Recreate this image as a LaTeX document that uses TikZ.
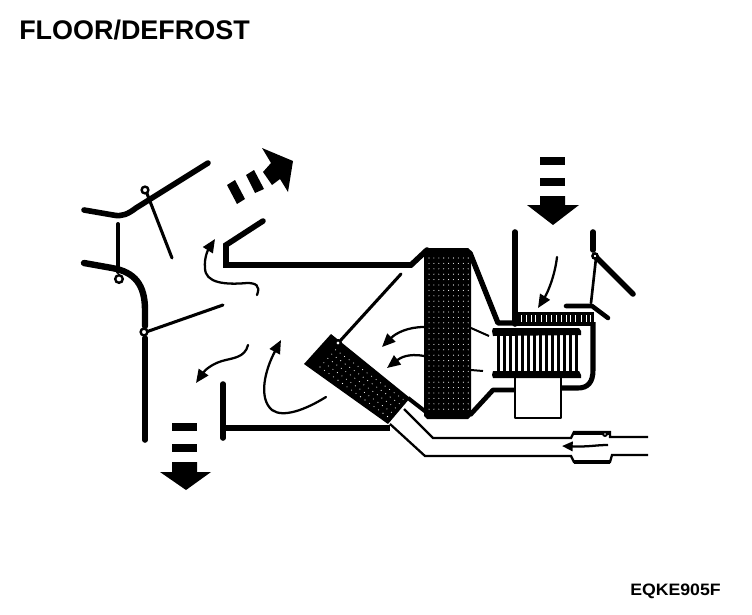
\documentclass[tikz,border=0pt]{standalone}
\usepackage{fontspec}
\setmainfont{Liberation Sans}
\usetikzlibrary{arrows.meta}
\tikzset{
 x=0.75pt,y=-0.75pt,
 wall/.style={line width=4.2pt,line cap=round,line join=round},
 wallthin/.style={line width=3pt,line cap=round,line join=round},
 flap/.style={line width=2.3pt,line cap=round},
 thin pipe/.style={line width=1.7pt,line join=miter},
 hinge/.style={draw,fill=white,line width=1.8pt},
 flow/.style={line width=1.7pt,line cap=round,-{Triangle[length=10pt,width=8.5pt]}},
 dot/.style={fill=white,draw=none},
}
\begin{document}
\begin{tikzpicture}
\useasboundingbox (0,0) rectangle (752,614);
\fill[white] (0,0) rectangle (752,614);
\node[anchor=west,inner sep=0pt,font=\bfseries\fontsize{20.2pt}{22pt}\selectfont] (title) at (19,30) {FLOOR/DEFROST};
\node[anchor=west,inner sep=0pt,font=\bfseries\fontsize{12.4pt}{14pt}\selectfont] (code) at (630,591) {\scalebox{1.07}[1]{EQKE905F}};
% left duct
\draw[wall] (84,210) -- (113,215) .. controls (122,217) and (128,214) .. (136,208) -- (208,163);
\draw[wallthin] (118,224) -- (118,272);
\draw[wall,line width=4.8pt] (84,263) -- (112,268) .. controls (135,272) and (145,285) .. (145,310) -- (145,326);
\draw[wall] (145,338) -- (145,440);
\draw[flap] (146,191) -- (172,258);
\draw[flap] (146,332) -- (223,305);
\draw[hinge] (145,190) circle (3.4);
\draw[hinge] (119,279) circle (3.8);
\draw[hinge] (144,332) circle (3.4);
% dashed arrows
\fill (227,185) -- (235,180) -- (245,199) -- (237,204) -- cycle;
\fill (246,175) -- (254,170) -- (264,189) -- (255,193) -- cycle;
\fill (262,148) -- (293,161) -- (288,192) -- (280,179) -- (272,185) -- (263,172) -- (271,163) -- cycle;
\fill (172,423) rectangle (197,431);
\fill (172,444) rectangle (197,452);
\fill (172,462) -- (197,462) -- (197,472) -- (211,472) -- (186,490) -- (160,472) -- (172,472) -- cycle;
\fill (540,157) rectangle (565,165);
\fill (540,178) rectangle (565,186);
\fill (540,196) -- (565,196) -- (565,205) -- (579,205) -- (553,225) -- (527,205) -- (540,205) -- cycle;
% upper right duct
\draw[line width=4.2pt,line cap=round,miter limit=10] (263,221) -- (226,245) -- (226,265) -- (411,265) -- (427,250);
% lower T
\draw[wall] (223,384) -- (223,438);
\draw[line width=4.4pt] (223,428) -- (390,428);
% evaporator
\fill (424,251) -- (427,248) -- (468,248) -- (471,251) -- (471,416) -- (468,419) -- (427,419) -- (424,416) -- cycle;
\foreach \i in {0,...,8}{\foreach \j in {0,...,28}{
 \fill[dot] ({429+\i*4.9},{258+\j*5.4}) circle (0.55);}}
% heater core
\fill (304,364) -- (331,334) -- (410,398) -- (388,424) -- cycle;
\foreach \i in {0,...,15}{\foreach \j in {0,...,4}{
 \fill[dot] ({320+\i*4.5+\j*3.9},{367+\i*3.3-\j*4.3}) circle (0.55);}}
\draw[line width=3pt] (408,398) -- (426,412);
\draw[flap] (340,341) -- (401,274);
\draw[hinge] (338,343) circle (2.8);
% lower pipes
\draw[thin pipe] (404,409) -- (433,438) -- (571,438) -- (574,432) -- (610,432) -- (610,437) -- (648,437);
\draw[thin pipe] (390,424) -- (425,456) -- (571,456) -- (574,462) -- (610,462) -- (612,455) -- (648,455);
\draw[line width=2.6pt] (574,433) -- (610,433);
\draw[line width=2.6pt] (574,462) -- (610,462);
\fill (605,434) circle (3);
\fill[white] (605,434) circle (0.9);
\draw[line width=1.7pt,-{Triangle[length=8pt,width=7pt]}] (608,445) .. controls (595,445) and (590,447) .. (562,446);
% right housing
\draw[line width=4.2pt,line cap=round] (515,232) -- (515,324);
\draw[wall,line width=4pt] (470,253) -- (498,323) -- (515,323);
\draw[line width=3.6pt,line join=round] (470,415) -- (493,390) -- (515,390);
\draw[line width=3.8pt] (593,322) -- (593,370) .. controls (593,382) and (588,388) .. (578,388) -- (560,388);
% top grill
\fill (515,312) rectangle (594,326);
\foreach \x in {521,526,531,535,541,546,551,556,561,566,570,575,581,586,590}{
 \fill[white] (\x,315) rectangle ++(1.2,7);}
% blower
\fill (493,328) -- (579,328) -- (581,331) -- (581,335) -- (493,336) -- (492,331) -- cycle;
\fill (493,371) -- (579,371) -- (581,375) -- (581,378) -- (493,378) -- (492,375) -- cycle;
\foreach \x in {497,503,...,576}{
 \fill (\x,334) rectangle ++(3.1,39);}
% motor
\draw[line width=1.7pt,line join=round] (515,378) -- (515,418) -- (561,418) -- (561,378);
% intake flap
\draw[wall] (593,232) -- (593,250);
\draw[wall] (596,257) -- (633,294);
\draw[flap,line width=2pt] (596,258) -- (591,303);
\draw[wall,line width=3.4pt] (566,306) -- (592,306) -- (608,318);
\draw[hinge] (595,256) circle (2.6);
% flow arrows
\draw[flow] (257,295) .. controls (261,285) and (255,283) .. (247,283) .. controls (225,285) and (205,283) .. (205,268) .. controls (204,258) and (208,250) .. (215,239);
\draw[flow] (248,345) .. controls (245,358) and (232,358) .. (222,361) .. controls (212,364) and (205,370) .. (196,383);
\draw[flow] (326,397) .. controls (305,410) and (283,418) .. (272,410) .. controls (258,398) and (265,370) .. (281,340);
\draw[flow] (424,327) .. controls (408,327) and (396,333) .. (382,347);
\draw[flow] (424,356) .. controls (408,353) and (400,358) .. (387,368);
\draw[line width=1.5pt] (471,328) -- (489,336);
\draw[line width=1.5pt] (471,370) -- (483,371);
\draw[flow] (557,257) .. controls (555,275) and (548,292) .. (538,308);
\end{tikzpicture}
\end{document}
